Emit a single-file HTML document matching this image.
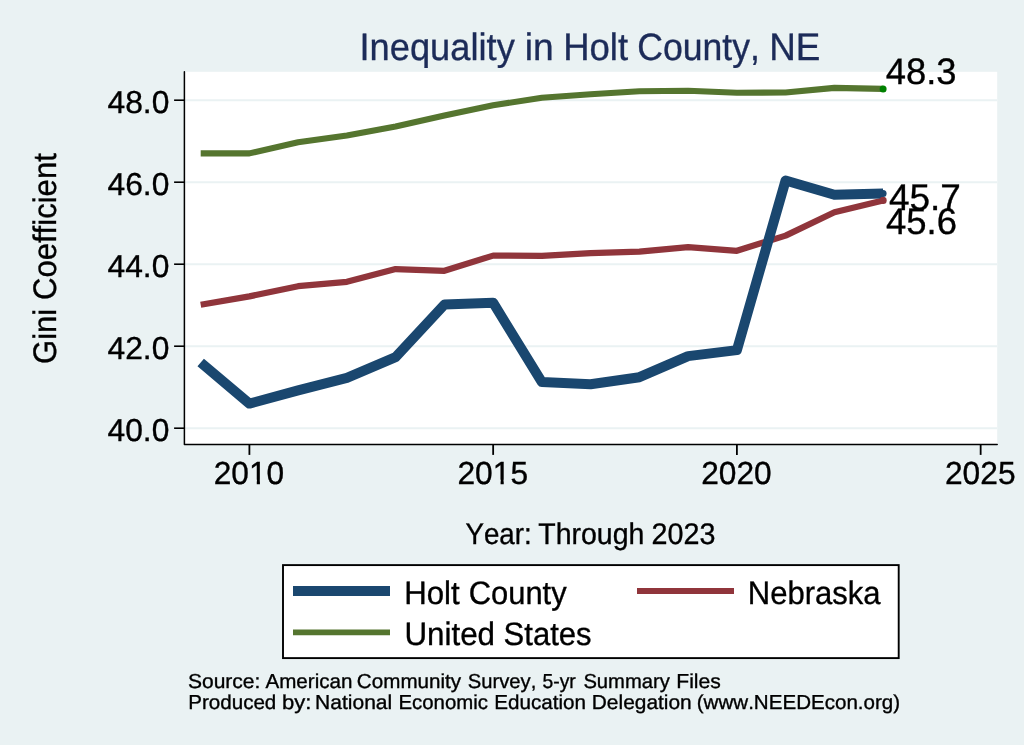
<!DOCTYPE html>
<html><head><meta charset="utf-8"><title>Inequality in Holt County, NE</title>
<style>html,body{margin:0;padding:0;background:#eaf2f3;width:1024px;height:745px;overflow:hidden}svg{display:block;will-change:transform}text{font-family:"Liberation Sans",sans-serif;font-kerning:none;font-variant-ligatures:none;text-rendering:geometricPrecision;stroke:currentColor;stroke-width:0.35px}</style>
</head><body>
<svg width="1024" height="745" viewBox="0 0 1024 745">
<rect x="0" y="0" width="1024" height="745" fill="#eaf2f3"/>
<rect x="184.4" y="71.8" width="812.8" height="372.7" fill="#ffffff"/>
<line x1="185" y1="428.20" x2="997" y2="428.20" stroke="#eaf2f3" stroke-width="2"/>
<line x1="185" y1="346.20" x2="997" y2="346.20" stroke="#eaf2f3" stroke-width="2"/>
<line x1="185" y1="264.20" x2="997" y2="264.20" stroke="#eaf2f3" stroke-width="2"/>
<line x1="185" y1="182.20" x2="997" y2="182.20" stroke="#eaf2f3" stroke-width="2"/>
<line x1="185" y1="100.20" x2="997" y2="100.20" stroke="#eaf2f3" stroke-width="2"/>
<path d="M184.4,71.8 V444.5 H997.2" fill="none" stroke="#000" stroke-width="1.5" stroke-linejoin="round" stroke-linecap="round"/>
<line x1="174.1" y1="428.20" x2="184.4" y2="428.20" stroke="#000" stroke-width="1.6"/>
<text x="107.47" y="440.89" font-size="31.71" textLength="61.87" lengthAdjust="spacingAndGlyphs">40.0</text>
<line x1="174.1" y1="346.20" x2="184.4" y2="346.20" stroke="#000" stroke-width="1.6"/>
<text x="107.47" y="358.89" font-size="31.71" textLength="61.87" lengthAdjust="spacingAndGlyphs">42.0</text>
<line x1="174.1" y1="264.20" x2="184.4" y2="264.20" stroke="#000" stroke-width="1.6"/>
<text x="107.47" y="276.89" font-size="31.71" textLength="61.87" lengthAdjust="spacingAndGlyphs">44.0</text>
<line x1="174.1" y1="182.20" x2="184.4" y2="182.20" stroke="#000" stroke-width="1.6"/>
<text x="107.47" y="194.89" font-size="31.71" textLength="61.87" lengthAdjust="spacingAndGlyphs">46.0</text>
<line x1="174.1" y1="100.20" x2="184.4" y2="100.20" stroke="#000" stroke-width="1.6"/>
<text x="107.47" y="112.89" font-size="31.71" textLength="61.87" lengthAdjust="spacingAndGlyphs">48.0</text>
<line x1="249.40" y1="444.5" x2="249.40" y2="454.9" stroke="#000" stroke-width="1.8"/>
<text x="213.71" y="484.09" font-size="31.92" textLength="70.53" lengthAdjust="spacingAndGlyphs">2010</text>
<rect x="248.353" y="479.70" width="8.417" height="5.88" fill="#eaf2f3"/>
<rect x="259.922" y="479.70" width="7.318" height="5.88" fill="#eaf2f3"/>
<line x1="493.15" y1="444.5" x2="493.15" y2="454.9" stroke="#000" stroke-width="1.8"/>
<text x="457.45" y="484.09" font-size="31.92" textLength="70.63" lengthAdjust="spacingAndGlyphs">2015</text>
<rect x="492.148" y="479.70" width="8.429" height="5.88" fill="#eaf2f3"/>
<rect x="503.733" y="479.70" width="7.328" height="5.88" fill="#eaf2f3"/>
<line x1="736.90" y1="444.5" x2="736.90" y2="454.9" stroke="#000" stroke-width="1.8"/>
<text x="701.21" y="484.09" font-size="31.92" textLength="70.53" lengthAdjust="spacingAndGlyphs">2020</text>
<line x1="980.65" y1="444.5" x2="980.65" y2="454.9" stroke="#000" stroke-width="1.8"/>
<text x="944.95" y="484.09" font-size="31.92" textLength="70.63" lengthAdjust="spacingAndGlyphs">2025</text>
<polyline points="200.7,153.4 249.4,153.4 298.1,142.2 346.9,135.4 395.6,126.5 444.4,115.5 493.1,105.3 541.9,97.7 590.6,94.3 639.4,91.2 688.1,90.8 736.9,92.8 785.6,92.5 834.4,87.9 883.1,88.9" fill="none" stroke="#55752f" stroke-width="6.1" stroke-linejoin="round"/>
<polyline points="200.7,304.8 249.4,296.4 298.1,286.2 346.9,281.8 395.6,269.1 444.4,270.8 493.1,255.6 541.9,255.8 590.6,253.1 639.4,251.6 688.1,247.2 736.9,250.8 785.6,235.6 834.4,212.3 883.1,200.4" fill="none" stroke="#90353b" stroke-width="6.2" stroke-linejoin="round"/>
<polyline points="200.7,362.5 249.4,403.6 298.1,390.4 346.9,377.8 395.6,357.1 444.4,304.6 493.1,302.7 541.9,382.1 590.6,384.2 639.4,377.2 688.1,356.1 736.9,350.1 785.6,180.5 834.4,194.8 883.1,193.6" fill="none" stroke="#1a476f" stroke-width="10" stroke-linejoin="round"/>
<circle cx="883.1" cy="88.9" r="3.5" fill="#008000"/>
<circle cx="883.1" cy="200.4" r="3.6" fill="#90353b"/>
<circle cx="883.1" cy="193.6" r="3.5" fill="#1a476f"/>
<text x="885.76" y="83.64" font-size="36.86" textLength="70.83" lengthAdjust="spacingAndGlyphs">48.3</text>
<text x="888.95" y="209.80" font-size="37.21" textLength="72.01" lengthAdjust="spacingAndGlyphs">45.7</text>
<text x="885.96" y="233.84" font-size="36.98" textLength="71.04" lengthAdjust="spacingAndGlyphs">45.6</text>
<text x="359.55" y="59.90" font-size="38.23" textLength="155.22" lengthAdjust="spacingAndGlyphs" style="fill:#1c2b58;color:#1c2b58">Inequality</text>
<text x="524.71" y="59.90" font-size="38.23" textLength="28.95" lengthAdjust="spacingAndGlyphs" style="fill:#1c2b58;color:#1c2b58">in</text>
<text x="563.26" y="59.90" font-size="38.23" textLength="64.81" lengthAdjust="spacingAndGlyphs" style="fill:#1c2b58;color:#1c2b58">Holt</text>
<text x="637.29" y="59.90" font-size="38.23" textLength="122.60" lengthAdjust="spacingAndGlyphs" style="fill:#1c2b58;color:#1c2b58">County,</text>
<text x="769.18" y="59.90" font-size="38.23" textLength="51.10" lengthAdjust="spacingAndGlyphs" style="fill:#1c2b58;color:#1c2b58">NE</text>
<text x="465.44" y="543.80" font-size="29.90" textLength="66.19" lengthAdjust="spacingAndGlyphs">Year:</text>
<text x="538.26" y="543.80" font-size="29.90" textLength="106.09" lengthAdjust="spacingAndGlyphs">Through</text>
<text x="651.56" y="543.80" font-size="29.90" textLength="63.91" lengthAdjust="spacingAndGlyphs">2023</text>
<g transform="translate(55.9,0) rotate(-90)"><text x="-363.96" y="0.00" font-size="32.60" textLength="55.15" lengthAdjust="spacingAndGlyphs">Gini</text>
<text x="-300.08" y="0.00" font-size="32.60" textLength="146.91" lengthAdjust="spacingAndGlyphs">Coefficient</text></g>
<rect x="283" y="565.1" width="615.7" height="93" fill="#fff" stroke="#000" stroke-width="1.9"/>
<line x1="293" y1="591" x2="390" y2="591" stroke="#1a476f" stroke-width="10"/>
<line x1="293" y1="632.4" x2="390" y2="632.4" stroke="#55752f" stroke-width="5.7"/>
<line x1="637" y1="591" x2="734" y2="591" stroke="#90353b" stroke-width="6"/>
<text x="404.24" y="603.90" font-size="32.40" textLength="55.49" lengthAdjust="spacingAndGlyphs">Holt</text>
<text x="468.73" y="603.90" font-size="32.40" textLength="97.93" lengthAdjust="spacingAndGlyphs">County</text>
<text x="404.38" y="645.20" font-size="32.40" textLength="90.64" lengthAdjust="spacingAndGlyphs">United</text>
<text x="503.59" y="645.20" font-size="32.40" textLength="87.93" lengthAdjust="spacingAndGlyphs">States</text>
<text x="747.76" y="603.90" font-size="32.40" textLength="132.74" lengthAdjust="spacingAndGlyphs">Nebraska</text>
<text x="187.95" y="688.40" font-size="20.20" textLength="72.48" lengthAdjust="spacingAndGlyphs">Source:</text>
<text x="265.46" y="688.40" font-size="20.20" textLength="86.98" lengthAdjust="spacingAndGlyphs">American</text>
<text x="356.85" y="688.40" font-size="20.20" textLength="104.29" lengthAdjust="spacingAndGlyphs">Community</text>
<text x="467.78" y="688.40" font-size="20.20" textLength="68.53" lengthAdjust="spacingAndGlyphs">Survey,</text>
<text x="542.53" y="688.40" font-size="20.20" textLength="33.30" lengthAdjust="spacingAndGlyphs">5-yr</text>
<text x="583.38" y="688.40" font-size="20.20" textLength="86.46" lengthAdjust="spacingAndGlyphs">Summary</text>
<text x="676.27" y="688.40" font-size="20.20" textLength="44.60" lengthAdjust="spacingAndGlyphs">Files</text>
<text x="188.21" y="708.60" font-size="20.20" textLength="88.12" lengthAdjust="spacingAndGlyphs">Produced</text>
<text x="281.98" y="708.60" font-size="20.20" textLength="29.44" lengthAdjust="spacingAndGlyphs">by:</text>
<text x="315.08" y="708.60" font-size="20.20" textLength="77.13" lengthAdjust="spacingAndGlyphs">National</text>
<text x="398.43" y="708.60" font-size="20.20" textLength="89.61" lengthAdjust="spacingAndGlyphs">Economic</text>
<text x="494.21" y="708.60" font-size="20.20" textLength="91.83" lengthAdjust="spacingAndGlyphs">Education</text>
<text x="591.78" y="708.60" font-size="20.20" textLength="99.97" lengthAdjust="spacingAndGlyphs">Delegation</text>
<text x="696.72" y="708.60" font-size="20.20" textLength="203.45" lengthAdjust="spacingAndGlyphs">(www.NEEDEcon.org)</text>
</svg>
</body></html>
